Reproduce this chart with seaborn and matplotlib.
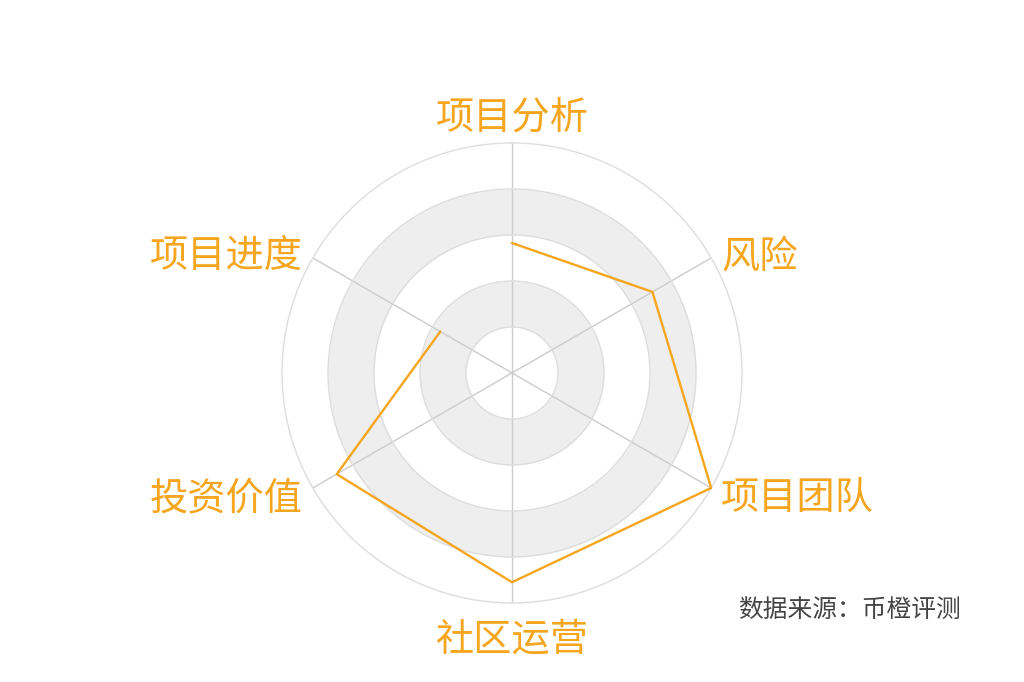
import numpy as np
import pandas as pd
import seaborn as sns
import matplotlib.pyplot as plt

sns.set_style('white')
plt.rcParams['font.family'] = ['Noto Sans CJK SC', 'DejaVu Sans']

# 雷达图数据
categories = ['项目分析', '风险', '项目团队', '社区运营', '投资价值', '项目进度']
scores = [56.5, 70.5, 100, 91, 88, 36]
max_score = 100
split_levels = [20, 40, 60, 80, 100]
source_text = '数据来源：币橙评测'

orange = '#F5A51E'

n = len(categories)
angles = np.arange(n) * 2 * np.pi / n
df = pd.DataFrame({
    'angle': np.append(angles, angles[0]),
    'score': scores + scores[:1],
})

fig = plt.figure(figsize=(10.24, 6.82), dpi=100)
ax = fig.add_axes([0.2754, 0.1159, 0.4492, 0.6745], projection='polar')
ax.set_theta_zero_location('N')
ax.set_theta_direction(-1)
ax.set_ylim(0, max_score)

# 背景间隔色带
t = np.linspace(0, 2 * np.pi, 361)
for i, (lo, hi) in enumerate(zip([0] + split_levels[:-1], split_levels)):
    if i % 2 == 1:
        ax.fill_between(t, lo, hi, color='#eeeeee', lw=0, zorder=0)

ax.set_yticks(split_levels[:-1])
ax.set_yticklabels([])
ax.set_xticks(angles)
ax.set_xticklabels([])
ax.grid(True, color='#dddddd', lw=1)
ax.xaxis.grid(True, color='#cccccc', lw=1)
ax.spines['polar'].set_color('#dddddd')
ax.spines['polar'].set_linewidth(1)

sns.lineplot(data=df, x='angle', y='score', sort=False, ax=ax,
             color=orange, lw=1.7, clip_on=False, zorder=5)
ax.set_xlabel('')
ax.set_ylabel('')

# 维度名称
for ang, name in zip(angles, categories):
    deg = np.degrees(ang)
    if deg == 0:
        r, ha = 113, 'center'
    elif deg == 180:
        r, ha = 114, 'center'
    elif deg < 180:
        r, ha = 105, 'left'
    else:
        r, ha = 105, 'right'
    ax.annotate(name, xy=(ang, r), xytext=(0, -5), textcoords='offset pixels',
                ha=ha, va='center', fontsize=27.5, color=orange,
                fontweight='medium', annotation_clip=False)

fig.text(738 / 1024, 1 - 610 / 682, source_text, ha='left', va='center',
         fontsize=17.8, color='#444444')

fig.savefig('out.png', dpi=100)
